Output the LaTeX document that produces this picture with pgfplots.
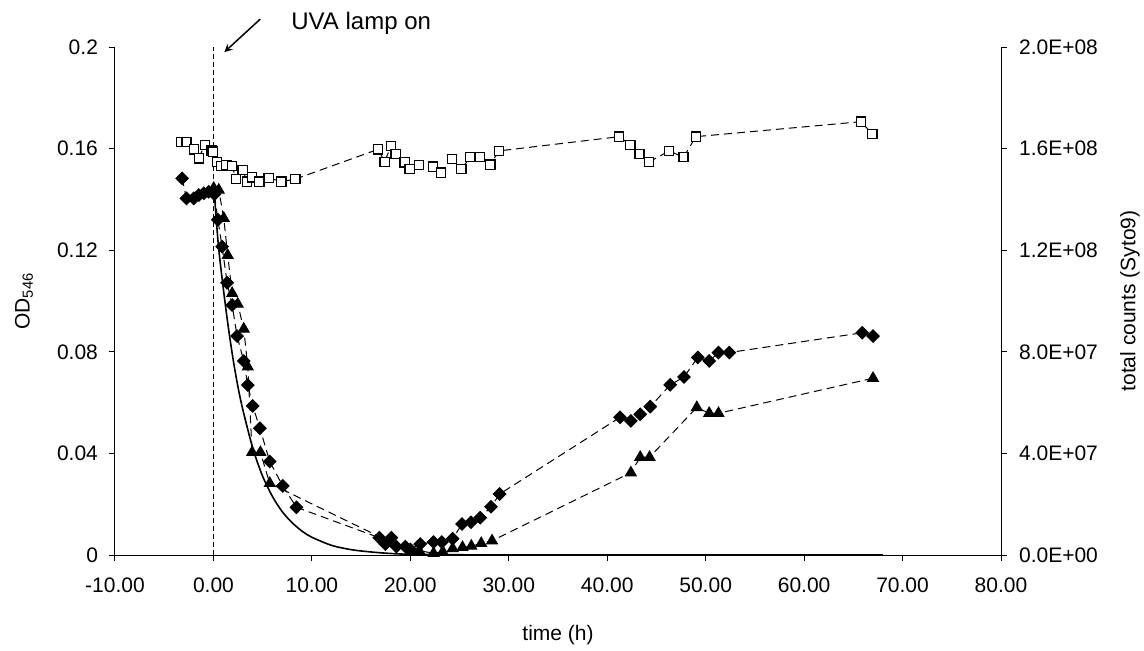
\documentclass[border=0pt]{standalone}
\usepackage{fontspec}
\setmainfont{Liberation Sans}
\usepackage{pgfplots}
\pgfplotsset{compat=1.18}
\begin{document}
\begin{tikzpicture}[font=\fontsize{10.5}{12.5}\selectfont]
\path[use as bounding box] (-57.5pt,-47.5pt) rectangle (514.5pt,277.5pt);
\begin{axis}[
  at={(0pt,0pt)}, anchor=south west,
  scale only axis, width=443pt, height=254pt,
  xmin=-10, xmax=80, ymin=0, ymax=0.2,
  axis x line*=bottom, axis y line*=left,
  axis line style={-, line width=0.5pt},
  tick align=outside, major tick length=3pt,
  tick style={black, line width=0.5pt},
  xtick={-10,0,...,80},
  xticklabels={-10.00,0.00,10.00,20.00,30.00,40.00,50.00,60.00,70.00,80.00},
  xticklabel style={yshift=-5pt},
  ytick={0,0.04,0.08,0.12,0.16,0.2},
  yticklabels={0,0.04,0.08,0.12,0.16,0.2},
  yticklabel style={xshift=-2pt},
  xlabel={time (h)},
  ylabel={OD\textsubscript{546}},
  xlabel style={at={(axis description cs:0.5,-0.157)}, anchor=center},
  ylabel style={at={(axis description cs:-0.1027,0.5)}, anchor=center},
  clip=false,
]
% UVA lamp on marker
\addplot[black, line width=0.85pt, dash pattern=on 2.5pt off 1.5pt] coordinates {(0,0) (0,0.2)};
% solid model curve
\addplot[black, line width=0.8pt, no marks, smooth] coordinates {
(0.1,0.142) (0.5,0.122) (1,0.105) (1.5,0.090) (2,0.077) (2.5,0.066) (3,0.057)
(4,0.042) (5,0.031) (6,0.023) (7,0.017) (8,0.0127) (9,0.0094) (10,0.0070)
(12,0.0038) (14,0.0021) (16,0.0012) (18,0.0006) (20,0.0003) (25,0.0001) (30,0) (68,0)};
% open squares
\addplot[black, line width=0.5pt, dash pattern=on 4pt off 2.5pt, mark=square*,
  mark size=2.3pt, mark options={solid, fill=white, line width=0.65pt}] coordinates {
(-3.25,0.1627) (-2.74,0.1627) (-2.00,0.1597) (-1.49,0.1562) (-0.88,0.1615)
(-0.20,0.1592) (-0.03,0.1588) (0.38,0.1548) (0.81,0.1531) (1.32,0.1535)
(1.90,0.1531) (2.30,0.1480) (2.97,0.1516) (3.42,0.1470) (3.93,0.1487)
(4.67,0.1470) (5.61,0.1485) (6.90,0.1470) (8.32,0.1480) (16.72,0.1597)
(17.39,0.1548) (18.04,0.1611) (18.50,0.1579) (19.42,0.1546) (19.93,0.1519)
(20.88,0.1535) (22.30,0.1529) (23.12,0.1505) (24.23,0.1559) (25.18,0.1519)
(26.09,0.1566) (27.04,0.1566) (28.12,0.1537) (29.00,0.1591) (41.22,0.1647)
(42.34,0.1615) (43.28,0.1579) (44.23,0.1547) (46.29,0.1591) (47.75,0.1566)
(49.00,0.1647) (65.79,0.1706) (66.93,0.1657)};
% diamonds
\addplot[black, line width=0.5pt, dash pattern=on 4pt off 2.5pt, mark=square*,
  mark size=2.2pt, mark options={solid, fill=black, rotate=45}] coordinates {
(-3.18,0.1483) (-2.74,0.1404) (-2.00,0.1404) (-1.49,0.1417) (-0.98,0.1424)
(-0.48,0.1430) (0.10,0.1420) (0.45,0.1320) (0.88,0.1214) (1.39,0.1072)
(1.90,0.0984) (2.40,0.0862) (3.08,0.0764) (3.49,0.0669) (3.99,0.0587)
(4.72,0.0499) (5.72,0.0368) (7.04,0.0272) (8.43,0.0188) (16.85,0.0068)
(17.46,0.0043) (18.07,0.0068) (18.58,0.0033) (19.49,0.0033) (20.00,0.0022)
(21.00,0.0043) (22.36,0.0051) (23.20,0.0051) (24.30,0.0064) (25.25,0.0122)
(26.16,0.0129) (27.10,0.0147) (28.20,0.0190) (29.07,0.0240) (41.30,0.0542)
(42.40,0.0528) (43.35,0.0554) (44.37,0.0584) (46.40,0.0670) (47.80,0.0701)
(49.20,0.0778) (50.36,0.0764) (51.30,0.0797) (52.40,0.0797) (65.90,0.0875)
(67.00,0.0862)};
% triangles
\addplot[black, line width=0.5pt, dash pattern=on 4pt off 2.5pt, mark=triangle*,
  mark size=3.1pt, mark options={solid, fill=black}] coordinates {
(0.03,0.1444) (0.54,0.1437) (1.05,0.1326) (1.45,0.1180) (1.90,0.1030)
(2.47,0.0988) (3.08,0.0890) (3.49,0.0741) (3.93,0.0404) (4.77,0.0404)
(5.72,0.0282) (20.00,0.0013) (20.90,0.0017) (22.36,0.0007) (23.30,0.0013)
(24.30,0.0026) (25.30,0.0030) (26.20,0.0035) (27.20,0.0046) (28.30,0.0056)
(42.40,0.0324) (43.35,0.0385) (44.30,0.0385) (49.10,0.0581) (50.36,0.0558)
(51.30,0.0558) (67.00,0.0696)};
\draw[-stealth, line width=0.75pt] (axis cs:4.76,0.211) -- (axis cs:1.11,0.198);
\node[anchor=west, font=\fontsize{12}{14}\selectfont] at (axis cs:7.2,0.2095) {UVA lamp on};
\end{axis}
\begin{axis}[
  at={(0pt,0pt)}, anchor=south west,
  scale only axis, width=443pt, height=254pt,
  xmin=-10, xmax=80, ymin=0, ymax=0.2,
  axis x line=none, axis y line*=right,
  axis line style={-, line width=0.5pt},
  tick align=outside, major tick length=3pt,
  tick style={black, line width=0.5pt},
  ytick={0,0.04,0.08,0.12,0.16,0.2},
  yticklabels={0.0E+00,4.0E+07,8.0E+07,1.2E+08,1.6E+08,2.0E+08},
  yticklabel style={xshift=2.5pt},
  ylabel={total counts (Syto9)},
  ylabel style={at={(axis description cs:1.1456,0.5)}, anchor=center},
]
\end{axis}
\end{tikzpicture}
\end{document}
